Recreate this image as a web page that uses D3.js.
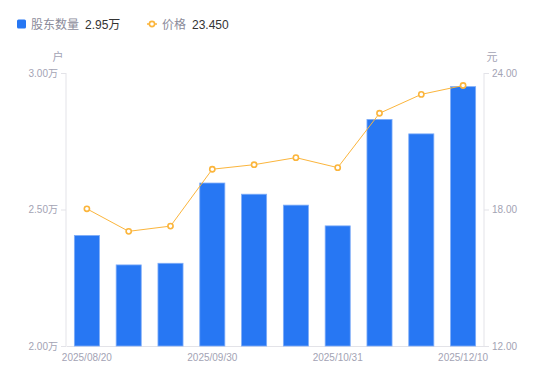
<!DOCTYPE html>
<html>
<head>
<meta charset="utf-8">
<script src="https://cdn.jsdelivr.net/npm/d3@7"></script>
<style>
  body { margin: 0; background: #fff; }
  text { font-family: "Liberation Sans", "Noto Sans CJK SC", sans-serif; }
</style>
</head>
<body>
<div id="chart"></div>
<script>
// dates of each report
const dates = ["2025/08/20", "2025/08/31", "2025/09/19", "2025/09/30", "2025/10/10",
  "2025/10/20", "2025/10/31", "2025/11/20", "2025/11/28", "2025/12/10"];
// shareholders, in 万户
const holders = [2.405, 2.297, 2.303, 2.597, 2.556, 2.516, 2.44, 2.83, 2.777, 2.95];
// share price, 元
const prices = [18.03, 17.04, 17.27, 19.77, 19.97, 20.28, 19.84, 22.23, 23.06, 23.45];
const leftTicks = [2.0, 2.5, 3.0];
const rightTicks = [12, 18, 24];

const W = 550, H = 381;
const margin = { top: 73, right: 66, bottom: 35, left: 66 };
const width = W - margin.left - margin.right,
  height = H - margin.top - margin.bottom;

const gray = "#a3a3b4";
const axisColor = "#e3e3e8";
const blue = "#2777f3";
const orange = "#fbb53c";

const svg = d3.select("#chart").append("svg")
  .attr("width", W)
  .attr("height", H);

// legend
const legend = svg.append("g").attr("transform", "translate(17,24)");
legend.append("rect")
  .attr("x", 0).attr("y", -4.5)
  .attr("width", 9).attr("height", 9)
  .attr("rx", 1.5)
  .attr("fill", blue);
legend.append("text")
  .attr("x", 14).attr("y", 4.5)
  .attr("font-size", 12).attr("fill", "#8b8b9a")
  .text("股东数量");
legend.append("text")
  .attr("x", 68).attr("y", 4.5)
  .attr("font-size", 12).attr("fill", "#333")
  .text(d3.format(".2f")(holders[holders.length - 1]) + "万");

const lg2 = legend.append("g").attr("transform", "translate(130,0)");
lg2.append("line")
  .attr("x1", 0).attr("x2", 10)
  .attr("stroke", orange).attr("stroke-width", 1.5);
lg2.append("circle")
  .attr("cx", 5).attr("r", 2.6)
  .attr("fill", "#fff").attr("stroke", orange).attr("stroke-width", 1.6);
lg2.append("text")
  .attr("x", 15).attr("y", 4.5)
  .attr("font-size", 12).attr("fill", "#8b8b9a")
  .text("价格");
lg2.append("text")
  .attr("x", 45).attr("y", 4.5)
  .attr("font-size", 12).attr("fill", "#333")
  .text(d3.format(".3f")(prices[prices.length - 1]));

const g = svg.append("g")
  .attr("transform", "translate(" + margin.left + "," + margin.top + ")");

const x = d3.scaleBand()
  .domain(dates)
  .range([0, width])
  .paddingInner(0.4)
  .paddingOuter(0.2);

const yLeft = d3.scaleLinear().domain([2.0, 3.0]).range([height, 0]);
const yRight = d3.scaleLinear().domain([12, 24]).range([height, 0]);

// left axis
const leftAxis = g.append("g")
  .call(d3.axisLeft(yLeft)
    .tickValues(leftTicks)
    .tickSize(5)
    .tickPadding(3)
    .tickFormat(d => d3.format(".2f")(d) + "万"));

// right axis
const rightAxis = g.append("g")
  .attr("transform", "translate(" + width + ",0)")
  .call(d3.axisRight(yRight)
    .tickValues(rightTicks)
    .tickSize(5)
    .tickPadding(3)
    .tickFormat(d3.format(".2f")));

// bottom axis, every third date labelled
const bottomAxis = g.append("g")
  .attr("transform", "translate(0," + height + ")")
  .call(d3.axisBottom(x)
    .tickValues(dates.filter((d, i) => i % 3 === 0))
    .tickSize(0)
    .tickPadding(8));

[leftAxis, rightAxis, bottomAxis].forEach(a => {
  a.select(".domain").attr("stroke", axisColor);
  a.selectAll(".tick line").attr("stroke", axisColor);
  a.selectAll(".tick text")
    .attr("fill", gray)
    .attr("font-size", 10)
    .attr("font-family", "\"Liberation Sans\", \"Noto Sans CJK SC\", sans-serif");
});
leftAxis.select(".domain").attr("d", "M0," + height + "V0");
rightAxis.select(".domain").attr("d", "M0," + height + "V0");

// unit labels
g.append("text")
  .attr("x", -8).attr("y", -12)
  .attr("text-anchor", "middle")
  .attr("font-size", 11).attr("fill", gray)
  .text("户");
g.append("text")
  .attr("x", width + 8).attr("y", -12)
  .attr("text-anchor", "middle")
  .attr("font-size", 11).attr("fill", gray)
  .text("元");

// bars
g.append("g").selectAll("rect")
  .data(holders)
  .join("rect")
  .attr("x", (d, i) => x(dates[i]))
  .attr("y", d => yLeft(d))
  .attr("width", x.bandwidth())
  .attr("height", d => height - yLeft(d))
  .attr("fill", blue)
  .attr("stroke", "#7fadf8")
  .attr("stroke-width", 0.8);

// price line
const line = d3.line()
  .x((d, i) => x(dates[i]) + x.bandwidth() / 2)
  .y(d => yRight(d));

g.append("path")
  .datum(prices)
  .attr("fill", "none")
  .attr("stroke", orange)
  .attr("stroke-width", 1)
  .attr("d", line);

g.append("g").selectAll("circle")
  .data(prices)
  .join("circle")
  .attr("cx", (d, i) => x(dates[i]) + x.bandwidth() / 2)
  .attr("cy", d => yRight(d))
  .attr("r", 2.6)
  .attr("fill", "#fff")
  .attr("stroke", orange)
  .attr("stroke-width", 1.6);
</script>
</body>
</html>
